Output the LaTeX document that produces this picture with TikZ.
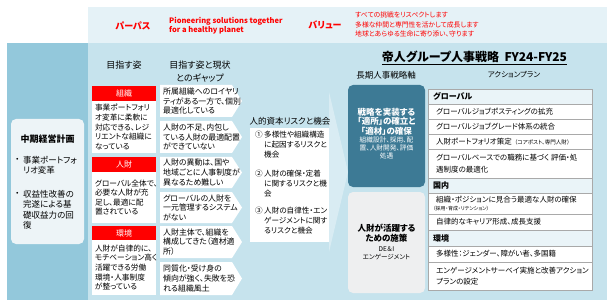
\documentclass[tikz,border=0pt]{standalone}
\usepackage{fontspec}
\setmainfont{Noto Sans CJK JP}[RawFeature={+palt}]
\newcommand\fs[2]{\fontsize{#1}{#2}\selectfont}
\definecolor{topband}{HTML}{E5F2F7}
\definecolor{mainbg}{HTML}{C6E3ED}
\definecolor{leftbg}{HTML}{93C8DB}
\definecolor{planbox}{HTML}{EDF4F7}
\definecolor{tealbox}{HTML}{3D7A95}
\definecolor{graybox}{HTML}{EEEFF0}
\definecolor{hdrrow}{HTML}{EAF4F8}
\definecolor{rowline}{HTML}{A9A9A9}
\definecolor{jred}{HTML}{FF0000}
\tikzset{
  hd/.style={inner sep=0pt, font=\fs{9}{11}},
  tgt/.style={fill=jred, text=white, minimum width=64pt, minimum height=15pt, inner sep=0pt, font=\fs{8}{10}},
  tbody/.style={fill=white, minimum width=64pt, text width=58pt, align=left, inner sep=3pt, font=\fs{7.7}{9.6}},
  gaptxt/.style={anchor=west, align=left, inner sep=0pt, font=\fs{7.9}{9.6}},
  risknum/.style={anchor=north west, inner sep=0pt, font=\fs{7.6}{9.8}},
  risktxt/.style={anchor=north west, align=left, inner sep=0pt, font=\fs{7.6}{9.8}},
  rowtxt/.style={anchor=west, inner sep=0pt, align=left, font=\fs{7.5}{11.5}},
  rowhd/.style={anchor=west, inner sep=0pt, font=\bfseries\fs{8}{9}},
  rowbox/.style={draw=rowline, line width=0.4pt},
}
\newcommand\gapbox[4]{%
  \fill[white] (160,#2) -- (232,#2) -- (242,{(#2+#3)/2}) -- (232,#3) -- (160,#3) -- cycle;
  \node[gaptxt] (#1) at (163,{(#2+#3)/2}) {#4};}
\begin{document}
\begin{tikzpicture}[x=1pt,y=-1pt]
\useasboundingbox (0,0) rectangle (612,307);
\fill[white] (0,0) rectangle (612,307);
% backgrounds
\fill[topband] (88,7) rectangle (607,43);
\fill[mainbg] (88,43) rectangle (607,300);
\fill[leftbg] (7,43) rectangle (88,300);
% faint arrow
\fill[white, opacity=0.35] (329,92) -- (348,172) -- (329,252) -- cycle;

% top band
\node[inner sep=0pt, text=jred, font=\bfseries\fs{9}{11}] (purpose) at (133,26) {パーパス};
\node[anchor=west, align=left, inner sep=0pt, text=jred, font=\bfseries\fs{7.5}{9.2}] (purposetxt) at (169,26) {Pioneering solutions together\\for a healthy planet};
\node[inner sep=0pt, text=jred, font=\bfseries\fs{9}{11}] (value) at (325,24.5) {バリュー};
\node[anchor=west, align=left, inner sep=0pt, text=jred, font=\fs{6.8}{9.3}] (valuetxt) at (355,24.5) {すべての挑戦をリスペクトします\\多様な仲間と専門性を活かして成長します\\地球とあらゆる生命に寄り添い、守ります};

% left plan box
\node[fill=planbox, rounded corners=5pt, minimum width=73pt, minimum height=125pt, inner sep=0pt] (plan) at (47.5,181.5) {};
\node[inner sep=0pt, font=\bfseries\fs{9}{11}] (plantitle) at (47.5,139) {中期経営計画};
\node[anchor=west, inner sep=0pt, font=\fs{8.5}{10.5}] (bul1) at (15,160) {・};
\node[anchor=west, align=left, inner sep=0pt, font=\fs{8.5}{10.5}] (plan1) at (23,165.25) {事業ポートフォ\\リオ変革};
\node[anchor=west, inner sep=0pt, font=\fs{8.5}{10.5}] (bul2) at (15,194) {・};
\node[anchor=west, align=left, inner sep=0pt, font=\fs{8.5}{10.5}] (plan2) at (23,209.75) {収益性改善の\\完遂による基\\礎収益力の回\\復};

% column headings
\node[hd] (colA) at (124,65) {目指す姿};
\node[hd, align=center, font=\fs{9}{12.5}] (colB) at (200,71.5) {目指す姿と現状\\とのギャップ};

% targets
\node[tgt] (t1h) at (124,93.5) {組織};
\node[tbody, minimum height=52pt] (t1) at (124,127) {事業ポートフォリ\\オ変革に柔軟に\\対応できる、レジ\\リエントな組織に\\なっている};
\node[tgt] (t2h) at (124,164.5) {人財};
\node[tbody, minimum height=51pt] (t2) at (124,197.5) {グローバル全体で、\\必要な人財が充\\足し、最適に配\\置されている};
\node[tgt] (t3h) at (124,233) {環境};
\node[tbody, minimum height=55pt] (t3) at (124,267.5) {人財が自律的に、\\モチベーション高く\\活躍できる労働\\環境・人事制度\\が整っている};

% gaps
\gapbox{g1}{85}{117}{所属組織へのロイヤリ\\ティがある一方で、個別\\最適化している}
\gapbox{g2}{121}{153}{人財の不足、内包し\\ている人財の最適配置\\ができていない}
\gapbox{g3}{157}{188}{人財の異動は、国や\\地域ごとに人事制度が\\異なるため難しい}
\gapbox{g4}{192}{223}{グローバルの人財を\\一元管理するシステム\\がない}
\gapbox{g5}{226}{258}{人財主体で、組織を\\構成してきた（適材適\\所）}
\gapbox{g6}{262}{295}{同質化・受け身の\\傾向が強く、失敗を恐\\れる組織風土}

% risks
\node[hd, font=\fs{8.5}{10}] (riskh) at (290,121.5) {人的資本リスクと機会};
\node[fill=white, minimum width=79pt, minimum height=114pt, inner sep=0pt] (riskbox) at (289.5,185) {};
\node[risknum] (r1n) at (255,131) {①};
\node[risktxt] (r1) at (264,131) {多様性や組織構造\\に起因するリスクと\\機会};
\node[risknum] (r2n) at (255,170) {②};
\node[risktxt] (r2) at (264,170) {人財の確保・定着\\に関するリスクと機\\会};
\node[risknum] (r3n) at (255,207) {③};
\node[risktxt] (r3) at (264,207) {人財の自律性・エン\\ゲージメントに関す\\るリスクと機会};

% right section
\node[inner sep=0pt, font=\bfseries\fs{12}{14}] (title) at (474.5,58) {\underline{帝人グループ人事戦略\ \ FY24-FY25}};
\node[hd, font=\fs{8.5}{10}] (axis) at (386,75) {長期人事戦略軸};
\node[hd, font=\fs{7.5}{9}] (plans) at (514,75) {アクションプラン};

\node[fill=tealbox, rounded corners=5pt, minimum width=77pt, minimum height=102pt, inner sep=0pt] (teal) at (386.5,136) {};
\node[inner sep=0pt, align=center, text=white, font=\bfseries\fs{8.5}{9.6}] (tealt) at (386.5,121.5) {戦略を実装する\\「適所」の確立と\\「適材」の確保};
\node[inner sep=0pt, align=center, text=white, font=\fs{6.7}{7.6}] (teals) at (386.5,148) {組織設計、採用、配\\置、人財開発、評価\\処遇};

\node[fill=graybox, rounded corners=5pt, minimum width=77pt, minimum height=101pt, inner sep=0pt] (gray) at (386.5,242.5) {};
\node[inner sep=0pt, align=center, font=\bfseries\fs{8.5}{10}] (grayt) at (386.5,233) {人財が活躍する\\ための施策};
\node[inner sep=0pt, align=center, font=\fs{6.5}{8}] (grays) at (386.5,253) {DE＆I\\エンゲージメント};

% action table
\foreach \t/\b/\f in {89/104/hdrrow,104/119/white,119/134/white,134/149/white,149/178/white,178/193/hdrrow,193/214/white,214/230/white,230/246/hdrrow,246/262/white,262/290/white}
  \filldraw[rowbox, fill=\f] (428,\t) rectangle (592,\b);
\node[rowhd] (h1) at (433,96.5) {グローバル};
\node[rowtxt] (a1) at (436,111.5) {グローバルジョブポスティングの拡充};
\node[rowtxt] (a2) at (436,126.5) {グローバルジョブグレード体系の統合};
\node[rowtxt] (a3) at (436,141.5) {人財ポートフォリオ策定\hspace{3pt}{\fs{5.5}{6}（コアポスト、専門人財）}};
\node[rowtxt] (a4) at (436,163.5) {グローバルベースでの職務に基づく 評価・処\\遇制度の最適化};
\node[rowhd] (h2) at (433,185.5) {国内};
\node[rowtxt] (a5) at (436,200) {組織・ポジションに見合う最適な人財の確保};
\node[rowtxt, font=\fs{5}{6}] (a5s) at (433,208.5) {（採用・育成・リテンション）};
\node[rowtxt] (a6) at (436,222) {自律的なキャリア形成、成長支援};
\node[rowhd] (h3) at (433,238) {環境};
\node[rowtxt] (a7) at (436,254) {多様性：ジェンダー、障がい者、多国籍};
\node[rowtxt] (a8) at (436,276) {エンゲージメントサーベイ実施と改善アクション\\プランの設定};
\end{tikzpicture}
\end{document}
